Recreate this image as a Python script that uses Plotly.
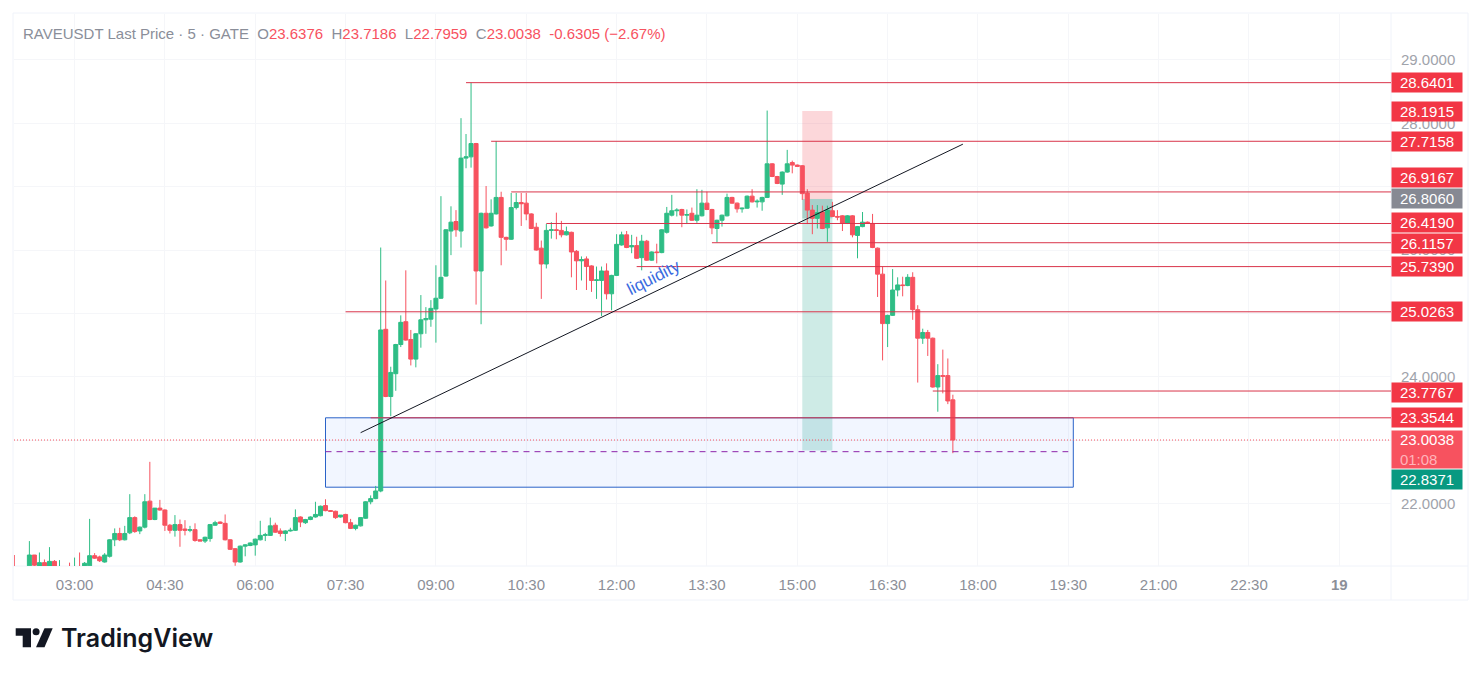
import pandas as pd
import plotly.graph_objects as go

# 5 minute candles (the first few sit below the visible range)
opens = [20.9, 20.7, 20.8, 21.02, 21.19, 20.98, 21.07, 21.01, 21.09, 20.9, 20.95, 20.95, 20.85, 21.0, 20.98, 21.02,
         21.18, 21.16, 21.08, 21.17, 21.43, 21.53, 21.43, 21.54, 21.78, 21.57, 21.63, 22.04, 21.75, 21.93, 21.9, 21.66,
         21.58, 21.67, 21.6, 21.58, 21.59, 21.43, 21.41, 21.45, 21.66, 21.71, 21.69, 21.43, 21.29, 21.08, 21.33, 21.34,
         21.35, 21.43, 21.5, 21.5, 21.66, 21.57, 21.53, 21.57, 21.58, 21.79, 21.7, 21.75, 21.79, 21.81, 21.97, 21.89,
         21.88, 21.79, 21.83, 21.7, 21.61, 21.65, 21.77, 22.03, 22.08, 22.2, 24.75, 23.69, 24.05, 24.51, 24.87, 24.59,
         24.28, 24.68, 24.9, 24.91, 25.07, 25.24, 25.59, 26.3, 26.45, 26.3, 27.45, 27.47, 27.68, 25.67, 26.58, 26.38,
         26.57, 26.83, 26.2, 26.17, 26.67, 26.75, 26.74, 26.57, 26.36, 26.03, 25.78, 26.31, 26.32, 26.31, 26.24, 26.28,
         25.98, 25.83, 25.86, 25.75, 25.52, 25.52, 25.67, 25.31, 25.6, 26.08, 26.24, 26.05, 26.07, 25.88, 26.14, 25.84,
         25.97, 25.96, 26.28, 26.55, 26.62, 26.64, 26.55, 26.58, 26.47, 26.54, 26.74, 26.64, 26.34, 26.47, 26.54, 26.83,
         26.74, 26.65, 26.66, 26.85, 26.76, 26.76, 26.83, 27.36, 27.16, 27.04, 27.23, 27.38, 27.34, 27.33, 26.9, 26.63,
         26.5, 26.6, 26.35, 26.62, 26.53, 26.54, 26.42, 26.54, 26.23, 26.37, 26.44, 26.42, 26.03, 25.62, 24.84, 24.97,
         25.37, 25.45, 25.44, 25.57, 25.06, 24.61, 24.7, 24.61, 23.84, 24.02, 24.02, 23.6376]
highs = [21.19, 20.9, 20.95, 21.41, 21.19, 21.23, 21.12, 21.315, 21.11, 21.11, 20.98, 21.07, 21.15, 21.23, 21.08, 21.76,
         21.22, 21.18, 21.22, 21.44, 21.61, 21.62, 21.65, 22.15, 21.8, 21.64, 22.15, 22.66, 21.93, 22.06, 21.91, 21.68,
         21.82, 21.75, 21.74, 21.65, 21.69, 21.44, 21.48, 21.68, 21.73, 21.72, 21.83, 21.44, 21.3, 21.34, 21.36, 21.39,
         21.45, 21.73, 21.54, 21.78, 21.7, 21.61, 21.58, 21.62, 21.91, 21.8, 21.76, 21.8, 22.03, 21.97, 22.07, 21.9,
         21.89, 21.82, 21.84, 21.76, 21.67, 21.79, 22.04, 22.13, 22.28, 26.04, 25.52, 24.16, 24.52, 24.97, 25.68, 24.74,
         24.69, 25.29, 25.1, 25.21, 25.76, 26.85, 26.33, 26.69, 26.63, 28.08, 27.83, 28.64, 27.69, 26.59, 27.01, 26.8,
         27.72, 26.92, 26.21, 26.9, 26.9, 26.9, 26.9, 26.58, 26.43, 26.15, 26.41, 26.44, 26.59, 26.46, 26.37, 26.29,
         26.0, 25.9, 25.9, 25.76, 25.74, 25.74, 25.79, 25.61, 26.25, 26.29, 26.3, 26.24, 26.21, 26.24, 26.16, 25.98,
         26.1, 26.33, 26.68, 26.87, 26.66, 26.65, 26.64, 26.67, 26.96, 26.95, 26.92, 26.65, 26.48, 26.56, 26.89, 26.84,
         26.75, 26.67, 26.86, 26.96, 26.8, 26.84, 28.2, 27.37, 27.17, 27.24, 27.58, 27.41, 27.35, 27.34, 26.96, 26.71,
         26.71, 26.7, 26.7, 26.76, 26.63, 26.55, 26.55, 26.55, 26.38, 26.6, 26.45, 26.57, 26.04, 25.74, 24.98, 25.7,
         25.57, 25.58, 25.62, 25.65, 25.13, 24.76, 24.74, 24.62, 24.2, 24.43, 24.29, 23.7186]
lows = [20.6, 20.5, 20.6, 20.9, 20.9, 20.9, 20.9, 20.9, 20.9, 20.85, 20.8, 20.8, 20.8, 20.9, 20.9, 21.0,
        21.13, 21.08, 21.07, 21.15, 21.33, 21.41, 21.42, 21.52, 21.54, 21.52, 21.61, 21.74, 21.74, 21.89, 21.57, 21.53,
        21.48, 21.32, 21.5, 21.55, 21.4, 21.41, 21.38, 21.4, 21.65, 21.68, 21.42, 21.27, 21.02, 21.07, 21.17, 21.33,
        21.18, 21.42, 21.41, 21.49, 21.54, 21.48, 21.41, 21.56, 21.57, 21.63, 21.68, 21.74, 21.78, 21.8, 21.88, 21.87,
        21.76, 21.78, 21.69, 21.6, 21.58, 21.64, 21.76, 21.99, 22.07, 22.18, 23.68, 23.38, 23.78, 24.47, 24.57, 24.18,
        24.15, 24.46, 24.68, 24.79, 24.54, 25.23, 25.58, 25.92, 26.21, 26.04, 27.29, 27.3, 25.14, 24.83, 26.34, 26.37,
        26.56, 25.76, 25.99, 26.16, 26.64, 26.38, 26.47, 26.33, 25.99, 25.23, 25.71, 26.18, 26.17, 26.2, 26.23, 25.57,
        25.37, 25.52, 25.37, 25.34, 25.23, 24.96, 25.22, 25.05, 25.59, 26.07, 26.03, 25.95, 25.86, 25.68, 25.83, 25.83,
        25.79, 25.95, 26.26, 26.53, 26.53, 26.36, 26.41, 26.46, 26.43, 26.53, 26.63, 26.25, 26.12, 26.37, 26.53, 26.73,
        26.59, 26.59, 26.65, 26.75, 26.67, 26.62, 26.82, 27.15, 27.04, 26.87, 27.22, 27.21, 27.31, 26.79, 26.41, 26.25,
        26.34, 26.33, 26.13, 26.52, 26.47, 26.3, 26.41, 26.2, 25.87, 26.36, 26.42, 26.03, 25.26, 24.26, 24.47, 24.96,
        25.27, 25.27, 25.43, 24.9, 23.91, 24.52, 24.33, 23.83, 23.45, 23.74, 23.57, 22.7959]
closes = [20.7, 20.8, 20.75, 21.19, 21.03, 21.07, 20.98, 21.09, 20.98, 20.95, 20.9, 20.85, 20.98, 20.98, 21.06, 21.18,
          21.14, 21.1, 21.19, 21.43, 21.53, 21.43, 21.53, 21.78, 21.56, 21.63, 22.03, 21.75, 21.93, 21.9, 21.66, 21.58,
          21.67, 21.58, 21.58, 21.59, 21.42, 21.41, 21.47, 21.67, 21.7, 21.69, 21.43, 21.28, 21.08, 21.33, 21.35, 21.38,
          21.44, 21.5, 21.51, 21.65, 21.55, 21.53, 21.57, 21.58, 21.78, 21.71, 21.75, 21.79, 21.83, 21.96, 21.89, 21.88,
          21.78, 21.82, 21.7, 21.61, 21.66, 21.78, 22.03, 22.08, 22.2, 24.74, 23.69, 24.07, 24.51, 24.86, 24.58, 24.28,
          24.68, 24.9, 24.92, 25.08, 25.24, 25.57, 26.32, 26.44, 26.32, 27.45, 27.47, 27.68, 25.67, 26.58, 26.35, 26.58,
          26.83, 26.2, 26.17, 26.67, 26.75, 26.73, 26.57, 26.34, 26.0, 25.78, 26.31, 26.32, 26.31, 26.24, 26.29, 25.97,
          25.83, 25.85, 25.74, 25.52, 25.53, 25.67, 25.31, 25.6, 26.09, 26.24, 26.04, 26.07, 25.87, 26.14, 25.84, 25.97,
          25.96, 26.32, 26.58, 26.62, 26.63, 26.55, 26.56, 26.47, 26.55, 26.74, 26.64, 26.35, 26.47, 26.55, 26.83, 26.74,
          26.65, 26.66, 26.85, 26.76, 26.77, 26.83, 27.36, 27.16, 27.05, 27.23, 27.36, 27.34, 27.32, 26.89, 26.63, 26.5,
          26.59, 26.34, 26.63, 26.53, 26.52, 26.42, 26.54, 26.24, 26.37, 26.44, 26.43, 26.04, 25.62, 24.84, 24.97, 25.37,
          25.45, 25.44, 25.57, 25.06, 24.61, 24.7, 24.61, 23.84, 24.02, 24.01, 23.62, 23.0038]
times = pd.date_range("2026-04-18 02:00", periods=len(opens), freq="5min")

# horizontal rays: price, start time
ray_prices = [28.6401, 27.7158, 26.9167, 26.4190, 26.1157, 25.7390, 25.0263, 23.7767, 23.3544]
ray_starts = ["09:30", "09:55", "10:15", "10:50", "13:35", "12:20", "07:30", "17:15", "07:55"]

# price scale badges: text, offset in px where the scale pushed them apart, colour
badge_prices = [28.6401, 28.1915, 27.7158, 26.9167, 26.8060, 26.4190, 26.1157, 25.7390, 25.0263, 23.7767, 23.3544, 22.8371]
badge_shifts = [0, 0, 0, 14, 0, 1, -1, 0, 0, -1, 0, -29]
badge_colors = ["#f23645"] * 4 + ["#868993"] + ["#f23645"] * 7
badge_colors[-1] = "#089981"

x_ticks = ["2026-04-18 03:00", "2026-04-18 04:30", "2026-04-18 06:00", "2026-04-18 07:30", "2026-04-18 09:00",
           "2026-04-18 10:30", "2026-04-18 12:00", "2026-04-18 13:30", "2026-04-18 15:00", "2026-04-18 16:30",
           "2026-04-18 18:00", "2026-04-18 19:30", "2026-04-18 21:00", "2026-04-18 22:30", "2026-04-19 00:00"]
x_labels = ["03:00", "04:30", "06:00", "07:30", "09:00", "10:30", "12:00", "13:30", "15:00", "16:30",
            "18:00", "19:30", "21:00", "22:30", "<b>19</b>"]
y_ticks = [22, 23, 24, 25, 26, 27, 28, 29]
# 23, 25 and 27 are fully covered by the badges
y_labels = ["22.0000", "", "24.0000", "", "26.0000", "", "28.0000", "29.0000"]

last_price = 23.0038
day = "2026-04-18 "
x_end = "2026-04-19 00:51:30"
W, H = 1481, 676
L, R, T, B = 14, 1391, 14, 566
FONT = "Liberation Sans"


def px(x):
    return (x - L) / (R - L)


def py(y):
    return (B - y) / (B - T)


fig = go.Figure(go.Candlestick(x=times, open=opens, high=highs, low=lows, close=closes,
                               increasing=dict(line=dict(color="#2ebd85", width=1), fillcolor="#2ebd85"),
                               decreasing=dict(line=dict(color="#f7525f", width=1), fillcolor="#f7525f"),
                               whiskerwidth=0, showlegend=False))

shapes = []
# position tool and supply box
shapes.append(dict(type="rect", x0=day + "07:10", x1=day + "19:35", y0=22.26, y1=23.3544, layer="between",
                   fillcolor="rgba(41,98,255,0.06)", line=dict(color="#2a62c8", width=1)))
shapes.append(dict(type="rect", x0=day + "15:05", x1=day + "15:35", y0=26.806, y1=28.1915, layer="between",
                   fillcolor="rgba(242,54,69,0.2)", line=dict(width=0)))
shapes.append(dict(type="rect", x0=day + "15:05", x1=day + "15:35", y0=22.8371, y1=26.806, layer="between",
                   fillcolor="rgba(8,153,129,0.2)", line=dict(width=0)))
shapes.append(dict(type="rect", x0=day + "15:05", x1=day + "15:35", y0=26.5, y1=26.806, layer="between",
                   fillcolor="rgba(8,100,90,0.2)", line=dict(width=0)))
for price, start in zip(ray_prices, ray_starts):
    shapes.append(dict(type="line", x0=day + start, x1=x_end, y0=price, y1=price, line=dict(color="#d9344a", width=1)))
shapes.append(dict(type="line", x0=day + "07:10", x1=day + "19:30", y0=22.82, y1=22.82,
                   line=dict(color="#8e24aa", width=1, dash="6px,5px")))
shapes.append(dict(type="line", x0=day + "07:45", x1=day + "17:45", y0=23.12, y1=27.67, line=dict(color="#131722", width=1)))
shapes.append(dict(type="line", xref="paper", x0=0, x1=1, y0=last_price, y1=last_price,
                   line=dict(color="#f7525f", width=1, dash="1px,2px")))

# frame of the chart widget
frame = dict(xref="paper", yref="paper", layer="below", line=dict(color="#f0f3fa", width=1))
shapes.append(dict(type="rect", x0=px(13), x1=px(1468), y0=py(13), y1=py(600), **frame))
shapes.append(dict(type="line", x0=px(1391), x1=px(1391), y0=py(13), y1=py(600), **frame))
shapes.append(dict(type="line", x0=px(13), x1=px(1468), y0=py(566), y1=py(566), **frame))

# logo
logo = dict(type="path", xref="paper", yref="paper", fillcolor="#131722", line=dict(width=0))
shapes.append(dict(path=f"M{px(15.7)},{py(628.3)} L{px(31)},{py(628.3)} L{px(31)},{py(647.3)} L{px(22.7)},{py(647.3)} "
                        f"L{px(22.7)},{py(635.7)} L{px(15.7)},{py(635.7)} Z", **logo))
shapes.append(dict(path=f"M{px(44.5)},{py(628.3)} L{px(52.7)},{py(628.3)} L{px(44.5)},{py(647.3)} L{px(36)},{py(647.3)} Z", **logo))
shapes.append(dict(type="circle", xref="paper", yref="paper", x0=px(32.6), x1=px(39.6), y0=py(628.3), y1=py(635.3),
                   fillcolor="#131722", line=dict(width=0)))

annotations = []
for price, shift, color in zip(badge_prices, badge_shifts, badge_colors):
    annotations.append(dict(xref="paper", x=1, xanchor="left", yref="y", y=price, yshift=shift, text=f"{price:.4f}",
                            width=70, height=19, borderpad=0, bgcolor=color, showarrow=False, align="center",
                            font=dict(family=FONT, size=15, color="#ffffff")))
annotations.append(dict(xref="paper", x=1, xanchor="left", yref="y", y=last_price, yanchor="top", yshift=10,
                        text=f"{last_price:.4f}<br><span style='color:#ffb3ba'>01:08</span>\u00a0\u00a0\u00a0\u00a0",
                        width=70, height=37, borderpad=0, bgcolor="#f7525f", showarrow=False, align="center",
                        font=dict(family=FONT, size=15, color="#ffffff")))
annotations.append(dict(x=day + "12:37", y=25.57, text="liquidity", textangle=-27, showarrow=False,
                        font=dict(family=FONT, size=17, color="#3a6be0")))

gap = "\u00a0\u00a0"
val = "<span style='color:#f7525f'>%s</span>"
header = ("RAVEUSDT Last Price · 5 · GATE" + gap + "O" + val % "23.6376" + gap + "H" + val % "23.7186" + gap
          + "L" + val % "22.7959" + gap + "C" + val % "23.0038" + gap + val % "-0.6305 (−2.67%)")
annotations.append(dict(xref="paper", yref="paper", x=px(21), y=py(33), xanchor="left", yanchor="middle", text=header,
                        showarrow=False, font=dict(family=FONT, size=15, color="#8a8e99")))
annotations.append(dict(xref="paper", yref="paper", x=px(59), y=py(638), xanchor="left", yanchor="middle", text="TradingView",
                        showarrow=False, font=dict(family="Inter", size=25, color="#131722", weight=600)))

fig.update_layout(width=W, height=H, autosize=False, paper_bgcolor="white", plot_bgcolor="white",
                  margin=dict(l=L, r=W - R, t=T, b=H - B), boxgap=0.2, boxgroupgap=0, shapes=shapes, annotations=annotations,
                  xaxis=dict(type="date", range=["2026-04-18 01:59:40", x_end], rangeslider=dict(visible=False),
                             tickmode="array", tickvals=x_ticks, ticktext=x_labels, showgrid=True, gridcolor="#f5f6f9",
                             zeroline=False, showline=False, ticks="", ticklabelstandoff=8,
                             tickfont=dict(family=FONT, size=15, color="#8c8f98")),
                  yaxis=dict(range=[21.017, 29.723], side="right", tickmode="array", tickvals=y_ticks, ticktext=y_labels,
                             showgrid=True, gridcolor="#f5f6f9", zeroline=False, showline=False, ticks="",
                             ticklabelstandoff=9, tickfont=dict(family=FONT, size=15, color="#a0a3ab")))

fig.write_html("out.html", config=dict(displayModeBar=False), post_script="document.body.style.margin='0';")
